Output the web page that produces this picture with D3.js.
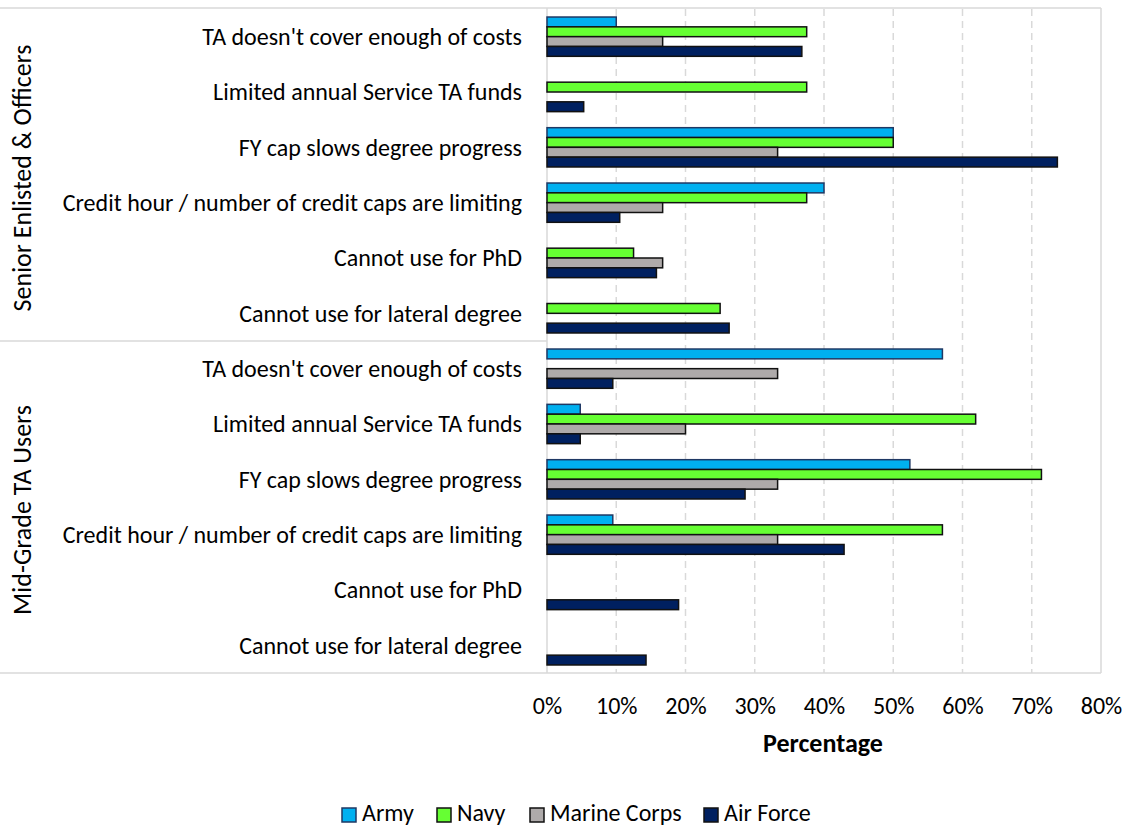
<!DOCTYPE html>
<html>
<head>
<meta charset="utf-8">
<script src="https://cdn.jsdelivr.net/npm/d3@7"></script>
<style>
  html, body { margin: 0; padding: 0; background: #fff; }
  svg { display: block; font-family: Calibri, Carlito, Lato, "Open Sans", sans-serif; }
</style>
</head>
<body>
<svg id="chart" width="1125" height="826"></svg>
<script>
// Respondent groups and the barriers asked about in each
const groups = ["Senior Enlisted & Officers", "Mid-Grade TA Users"];
const categories = [
  "TA doesn't cover enough of costs",
  "Limited annual Service TA funds",
  "FY cap slows degree progress",
  "Credit hour / number of credit caps are limiting",
  "Cannot use for PhD",
  "Cannot use for lateral degree"
];
const seriesNames = ["Army", "Navy", "Marine Corps", "Air Force"];

// Percent of respondents per service; first six values are Senior Enlisted & Officers, last six Mid-Grade TA Users
const army     = [10.0, 0,    50.0, 40.0, 0,    0,     57.1, 4.8,  52.4, 9.5,  0,    0];
const navy     = [37.5, 37.5, 50.0, 37.5, 12.5, 25.0,  0,    61.9, 71.4, 57.1, 0,    0];
const marine   = [16.7, 0,    33.3, 16.7, 16.7, 0,     33.3, 20.0, 33.3, 33.3, 0,    0];
const airForce = [36.8, 5.3,  73.7, 10.5, 15.8, 26.3,  9.5,  4.8,  28.6, 42.9, 19.0, 14.3];

const xTicks = [0, 10, 20, 30, 40, 50, 60, 70, 80];

const seriesValues = [army, navy, marine, airForce];
const fills   = ["#00B0F0", "#66FF33", "#AEAAAA", "#002060"];
const strokes = ["#1F3864", "#111111", "#111111", "#111111"];

const svg = d3.select("#chart");
const plotLeft = 547, plotRight = 1101, plotTop = 9, plotBottom = 673;

// One row per (group, category)
const rows = [];
groups.forEach((g, gi) => categories.forEach((c, ci) => rows.push({ key: gi + "|" + ci, group: g, label: c, idx: gi * categories.length + ci })));

const x = d3.scaleLinear().domain([0, 80]).range([plotLeft, plotRight]);
const y = d3.scaleBand().domain(rows.map(r => r.key)).range([plotTop, plotBottom]).paddingInner(0.29).paddingOuter(0.145);
const yInner = d3.scaleBand().domain(seriesNames).range([0, y.bandwidth()]);

// Dashed vertical gridlines
svg.append("g")
  .selectAll("line")
  .data(xTicks.filter(t => t > 0 && t < 80))
  .join("line")
  .attr("x1", d => x(d)).attr("x2", d => x(d))
  .attr("y1", plotTop).attr("y2", plotBottom)
  .attr("stroke", "#D9D9D9").attr("stroke-width", 1.5)
  .attr("stroke-dasharray", "7,5");

// Frame lines
const frame = svg.append("g").attr("stroke", "#D9D9D9").attr("stroke-width", 1.5).attr("fill", "none");
frame.append("line").attr("x1", 0).attr("x2", plotRight).attr("y1", plotTop - 1).attr("y2", plotTop - 1);
frame.append("line").attr("x1", 0).attr("x2", plotRight).attr("y1", plotBottom).attr("y2", plotBottom);
frame.append("line").attr("x1", plotRight).attr("x2", plotRight).attr("y1", plotTop - 1).attr("y2", plotBottom);
frame.append("line").attr("x1", 0).attr("x2", plotLeft).attr("y1", (plotTop + plotBottom) / 2).attr("y2", (plotTop + plotBottom) / 2);
frame.append("line").attr("x1", plotLeft).attr("x2", plotLeft).attr("y1", plotTop - 1).attr("y2", plotBottom);

// Bars
const barData = [];
rows.forEach(r => seriesNames.forEach((s, si) => {
  const v = seriesValues[si][r.idx];
  if (v > 0) barData.push({ row: r.key, series: s, si, value: v });
}));

svg.append("g")
  .selectAll("rect")
  .data(barData)
  .join("rect")
  .attr("x", x(0))
  .attr("y", d => y(d.row) + yInner(d.series))
  .attr("width", d => x(d.value) - x(0))
  .attr("height", yInner.bandwidth())
  .attr("fill", d => fills[d.si])
  .attr("stroke", d => strokes[d.si])
  .attr("stroke-width", 1.5);

// Category labels
svg.append("g")
  .selectAll("text")
  .data(rows)
  .join("text")
  .attr("x", 522)
  .attr("y", d => y(d.key) + y.bandwidth() / 2 + 2.5)
  .attr("text-anchor", "end")
  .attr("dominant-baseline", "middle")
  .attr("font-size", 24)
  .attr("fill", "#000")
  .text(d => d.label);

// Group labels, rotated
const groupHeight = (plotBottom - plotTop) / groups.length;
svg.append("g")
  .selectAll("text")
  .data(groups)
  .join("text")
  .attr("transform", (d, i) => `translate(25,${plotTop + groupHeight * (i + 0.5) + 3}) rotate(-90)`)
  .attr("text-anchor", "middle")
  .attr("dominant-baseline", "middle")
  .attr("font-size", 26)
  .attr("fill", "#000")
  .text(d => d);

// X axis tick labels
const xAxis = d3.axisBottom(x).tickValues(xTicks).tickFormat(d => d + "%").tickSize(0).tickPadding(24);
const gx = svg.append("g").attr("transform", `translate(0,${plotBottom})`).call(xAxis);
gx.select(".domain").remove();
gx.selectAll("text").attr("font-size", 24).attr("fill", "#000");
gx.attr("font-family", null).attr("font-size", null);

// X axis title
svg.append("text")
  .attr("x", 823)
  .attr("y", 746)
  .attr("text-anchor", "middle")
  .attr("dominant-baseline", "middle")
  .attr("font-size", 26)
  .attr("font-weight", "bold")
  .attr("fill", "#000")
  .text("Percentage");

// Legend
const legendX = [342, 437, 530, 704];
const legend = svg.append("g");
seriesNames.forEach((s, i) => {
  const g = legend.append("g").attr("transform", `translate(${legendX[i]},815)`);
  g.append("rect").attr("x", 0).attr("y", -7).attr("width", 14).attr("height", 14)
    .attr("fill", fills[i]).attr("stroke", strokes[i]).attr("stroke-width", 1.5);
  g.append("text").attr("x", 20).attr("y", 0).attr("dominant-baseline", "middle")
    .attr("font-size", 24).attr("fill", "#000").text(s);
});
</script>
</body>
</html>
